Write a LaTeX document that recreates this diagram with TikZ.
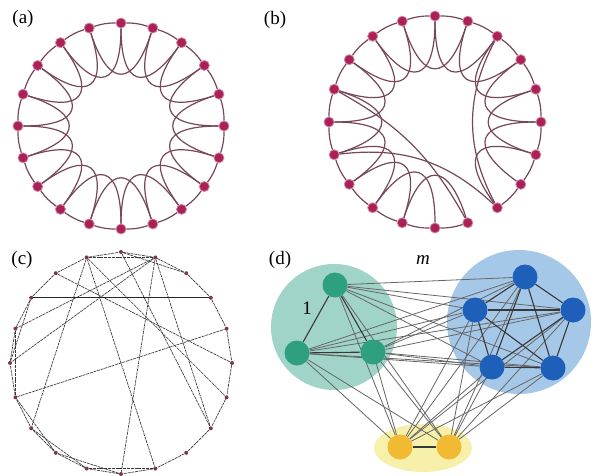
\documentclass[tikz,border=0pt]{standalone}
\usepackage{fontspec}
\setmainfont{Liberation Serif}
\usetikzlibrary{calc}
\definecolor{ringnode}{RGB}{172,32,88}
\definecolor{ringedge}{RGB}{118,70,90}
\definecolor{cnode}{RGB}{125,55,75}
\definecolor{cedgec}{RGB}{55,55,55}
\definecolor{gbg}{RGB}{160,212,200}
\definecolor{gnode}{RGB}{46,160,128}
\definecolor{bbg}{RGB}{165,200,232}
\definecolor{bnode}{RGB}{30,95,185}
\definecolor{ybg}{RGB}{246,240,170}
\definecolor{ynode}{RGB}{242,185,50}
\pgfdeclarelayer{bg}\pgfdeclarelayer{edges}\pgfsetlayers{bg,edges,main}
\begin{document}
\begin{tikzpicture}[x=1pt,y=1pt,
  rnode/.style={circle,fill=ringnode,draw=ringnode!55!white,line width=0.8pt,inner sep=0pt,minimum size=10pt},
  redge/.style={draw=ringedge,line width=1.2pt},
  cnodest/.style={circle,fill=cnode,inner sep=0pt,minimum size=4pt},
  cedge/.style={draw=cedgec,line width=0.65pt,dash pattern=on 3pt off 0.8pt},
  dnode/.style={circle,inner sep=0pt,minimum size=25pt},
  dedge/.style={draw=black!60,line width=0.8pt},
  dinner/.style={draw=black!78,line width=1.1pt},
  lab/.style={font=\fontsize{19}{19}\selectfont,inner sep=0pt}]

\useasboundingbox (0,0) rectangle (596,475);
\begin{pgfonlayer}{bg}\fill[white] (0,0) rectangle (596,475);\end{pgfonlayer}

% ---------- (a) ----------
\begin{scope}[shift={(121,349)}]
\foreach \j in {0,...,19} \node[rnode] (a\j) at (18*\j:103) {};
\begin{pgfonlayer}{edges}
\foreach \j [evaluate=\j as \k using {int(mod(\j+1,20))},
             evaluate=\j as \m using {int(mod(\j+2,20))},
             evaluate=\j as \p using {18*\j},
             evaluate=\j as \q using {18*\j+36}] in {0,...,19} {
  \draw[redge] (a\j) to[bend right=9] (a\k);
  \draw[redge] (a\j) .. controls (\p:40) and (\q:40) .. (a\m);
}
\end{pgfonlayer}
\end{scope}

% ---------- (b) ----------
\begin{scope}[shift={(435,353)}]
\foreach \j in {0,...,19} \node[rnode] (b\j) at (18*\j:106) {};
\begin{pgfonlayer}{edges}
\foreach \j [evaluate=\j as \k using {int(mod(\j+1,20))},
             evaluate=\j as \m using {int(mod(\j+2,20))},
             evaluate=\j as \p using {18*\j},
             evaluate=\j as \q using {18*\j+36}] in {0,...,19} {
  \ifnum\j=16 \else \draw[redge] (b\j) to[bend right=9] (b\k); \fi
  \ifnum\j=15 \else \ifnum\j=16 \else
    \draw[redge] (b\j) .. controls (\p:41) and (\q:41) .. (b\m);
  \fi\fi
}
\draw[redge] (b9) to[bend left=16] (b16);
\draw[redge] (b11) to[bend left=25] (b17);
\draw[redge] (b3) to[bend right=28] (b17);
\end{pgfonlayer}
\end{scope}

% ---------- (c) ----------
\begin{scope}[shift={(121,112)}]
\foreach \n in {1,...,20} \node[cnodest] (c\n) at ({90-18*(\n-1)}:111) {};
\begin{pgfonlayer}{edges}
\foreach \n [evaluate=\n as \k using {int(mod(\n,20)+1)}] in {1,...,20}
  \draw[cedge] (c\n) -- (c\k);
\foreach \u/\v in {2/17,2/16,2/11,2/8,1/8,20/14,20/10,20/7,19/6,15/5,18/16,17/15,15/13,14/12,13/11,12/10,20/2,1/3}
  \draw[cedge] (c\u) -- (c\v);
\draw[draw=black!85,line width=0.7pt] (c18) -- (c4);
\end{pgfonlayer}
\end{scope}

% ---------- (d) ----------
\begin{pgfonlayer}{bg}
\fill[gbg] (334,148) circle (63);
\fill[bbg] (519,153) circle (72);
\fill[ybg] (423,27) ellipse (49 and 24);
\end{pgfonlayer}
\node[dnode,fill=gnode] (G1) at (335,190) {};
\node[dnode,fill=gnode] (G2) at (297,122) {};
\node[dnode,fill=gnode] (G3) at (373,123) {};
\node[dnode,fill=bnode] (B1) at (525,198) {};
\node[dnode,fill=bnode] (B2) at (475,165) {};
\node[dnode,fill=bnode] (B3) at (573,165) {};
\node[dnode,fill=bnode] (B4) at (492,108) {};
\node[dnode,fill=bnode] (B5) at (553,107) {};
\node[dnode,fill=ynode] (Y1) at (400,28) {};
\node[dnode,fill=ynode] (Y2) at (449,28) {};
\begin{pgfonlayer}{edges}
\foreach \u in {G1,G2,G3} {
  \foreach \v in {B1,B2,B3,B4,B5,Y1,Y2} \draw[dedge] (\u) -- (\v);
}
\foreach \u in {B1,B2,B3,B4,B5} {
  \foreach \v in {Y1,Y2} \draw[dedge] (\u) -- (\v);
}
\foreach \u/\v in {G1/G2,G1/G3,G2/G3,B1/B2,B1/B3,B1/B4,B1/B5,B2/B3,B2/B4,B2/B5,B3/B4,B3/B5,B4/B5,Y1/Y2}
  \draw[dinner] (\u) -- (\v);
\end{pgfonlayer}

% ---------- labels ----------
\node[lab] (la) at (23,456) {(a)};
\node[lab] (lb) at (275,455) {(b)};
\node[lab] (lc) at (22,215) {(c)};
\node[lab] (ld) at (280,215) {(d)};
\node[lab] (lm) at (423,215) {\textit{m}};
\node[lab] (l1) at (307,167) {1};
\end{tikzpicture}
\end{document}
